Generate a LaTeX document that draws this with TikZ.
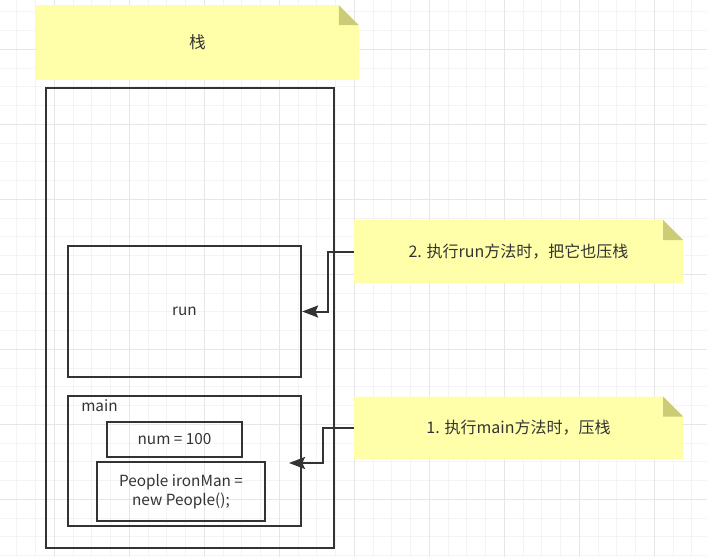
\documentclass[tikz,border=0pt]{standalone}
\usepackage{fontspec}
\setmainfont{Noto Sans CJK SC}
\usetikzlibrary{arrows.meta}
\definecolor{inkgray}{HTML}{333333}
\definecolor{notefill}{HTML}{FFFFAA}
\definecolor{foldfill}{HTML}{CCCC77}
\definecolor{minorgrid}{HTML}{F4F4F4}
\definecolor{majorgrid}{HTML}{E6E6E6}
\tikzset{
	framebox/.style={draw=inkgray,line width=1.5pt,text=inkgray,inner sep=0pt,font=\fontsize{11.5}{14}\selectfont},
	notebox/.style={inner sep=0pt,text=inkgray,font=\fontsize{12}{14}\selectfont,
		path picture={
			\fill[notefill] (path picture bounding box.north west) -- ([xshift=-15pt]path picture bounding box.north east)
				-- ([yshift=-15pt]path picture bounding box.north east) -- (path picture bounding box.south east)
				-- (path picture bounding box.south west) -- cycle;
			\fill[foldfill] ([xshift=-15pt]path picture bounding box.north east) -- ([xshift=-15pt,yshift=-15pt]path picture bounding box.north east)
				-- ([yshift=-15pt]path picture bounding box.north east) -- cycle;
		}},
	pusharrow/.style={draw=inkgray,line width=1.5pt,-{Stealth[length=12pt,width=9pt,inset=2pt]}}
}
\begin{document}
\begin{tikzpicture}[x=0.75pt,y=-0.75pt]
			\useasboundingbox (0,0) rectangle (707,557);
			%Background grid
			\foreach \k in {0,...,37} {
				\draw[minorgrid,line width=0.75pt] ({16.8+18.75*\k},0) -- ({16.8+18.75*\k},557);
			}
			\foreach \k in {0,...,29} {
				\draw[minorgrid,line width=0.75pt] (0,{11.8+18.75*\k}) -- (707,{11.8+18.75*\k});
			}
			\foreach \k in {0,...,8} {
				\draw[majorgrid,line width=0.75pt] ({54.3+75*\k},0) -- ({54.3+75*\k},557);
			}
			\foreach \k in {0,...,6} {
				\draw[majorgrid,line width=0.75pt] (0,{49.3+75*\k}) -- (707,{49.3+75*\k});
			}
			%Title note
			\node [notebox,minimum width=242pt,minimum height=56pt,font=\fontsize{12.5}{14}\selectfont] (title) at (197.5,42.5) {栈};
			%The stack
			\node [framebox,minimum width=216pt,minimum height=345pt] (stack) at (190,318) {};
			%Frame of run
			\node [framebox,minimum width=175pt,minimum height=98pt] (run) at (184.5,311.5) {run};
			%Frame of main
			\node [framebox,minimum width=175pt,minimum height=97.5pt] (main) at (184.5,461) {};
			\node [anchor=west,text=inkgray,inner sep=0pt,font=\fontsize{11.5}{14}\selectfont] (mainlabel) at (81,406) {main};
			\node [framebox,minimum width=101pt,minimum height=26pt] (num) at (174.5,439.5) {num = 100};
			\node [framebox,minimum width=126pt,minimum height=44pt,align=center] (people) at (181,491.5) {People ironMan =\\new People();};
			%Notes on the right
			\node [notebox,minimum width=247pt,minimum height=47pt] (note2) at (518.5,251.5) {2. 执行run方法时，把它也压栈};
			\node [notebox,minimum width=247pt,minimum height=47pt] (note1) at (518.5,428) {1. 执行main方法时，压栈};
			%Arrows
			\coordinate (mainTip) at (289,463);
			\draw[pusharrow] (note2.west) -- ++(-26,0) |- (run.east);
			\draw[pusharrow] (note1.west) -- ++(-31,0) |- (mainTip);
\end{tikzpicture}
\end{document}
